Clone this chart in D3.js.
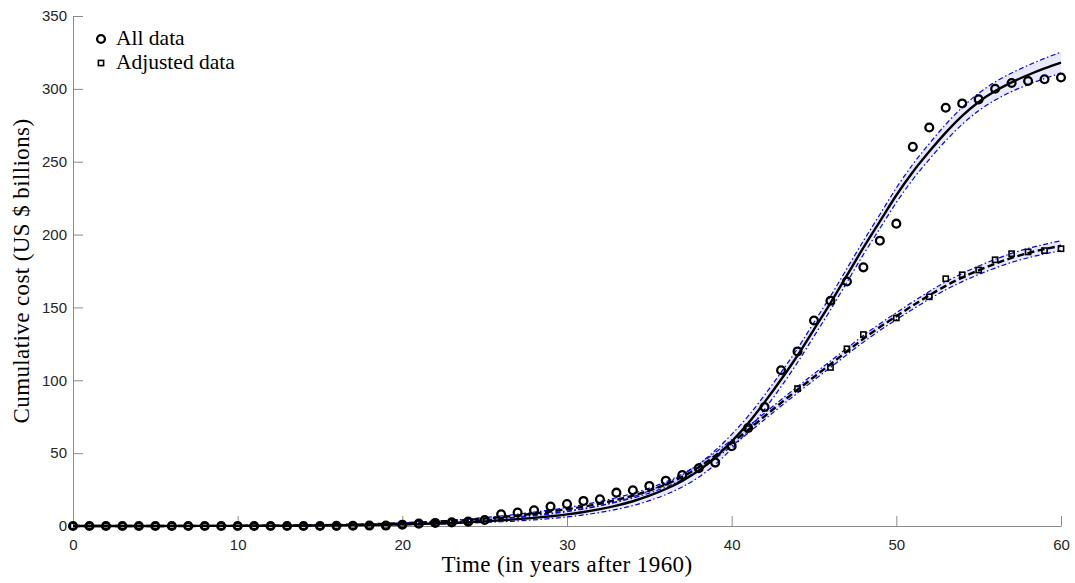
<!DOCTYPE html>
<html>
<head>
<meta charset="utf-8">
<script src="https://cdn.jsdelivr.net/npm/d3@7"></script>
<style>
    body { margin: 0; background: #fff; }
    svg { display: block; }
</style>
</head>
<body>
<div id="chart"></div>
<script>
const years = [0,1,2,3,4,5,6,7,8,9,10,11,12,13,14,15,16,17,18,19,20,21,22,23,24,25,26,27,28,29,30,
    31,32,33,34,35,36,37,38,39,40,41,42,43,44,45,46,47,48,49,50,51,52,53,54,55,56,57,58,59,60];

const allData = [0,0,0,0,0,0,0,0,0,0,0,0,0,0,0,0,0.1,0.2,0.3,0.3,0.9,1.6,2.1,2.5,3.0,4.1,8.0,9.2,10.8,13.3,
    15.1,17.2,18.3,22.9,24.5,27.5,31.1,35.0,39.6,43.5,54.7,67.3,81.7,106.9,119.8,141.0,154.6,167.8,177.5,195.8,
    207.5,260.2,273.5,287.0,290.0,292.8,300.1,304.0,305.4,306.6,307.8];

// null where no square can be seen in the picture
const adjustedData = [0,0,0,0,0,0,0,0,0,0,0,0,0,0,0,0,0.1,0.2,0.3,0.3,0.9,1.6,2.1,2.5,3.0,null,null,null,null,null,
    null,null,null,null,null,null,null,null,null,null,null,66.8,null,null,94.3,null,108.8,121.6,131.4,null,
    142.8,null,157.3,169.7,172.4,175.7,182.7,186.9,188.1,189.0,190.3];

// fitted curves and half width of their confidence bands
const fitAll = [0,0,0,0,0,0,0.1,0.1,0.1,0.1,0.1,0.2,0.2,0.2,0.3,0.4,0.5,0.6,0.7,0.9,1.1,1.4,1.7,2.1,2.6,3.2,3.9,
    4.7,5.6,6.7,8.0,9.6,11.6,14.0,17.0,20.8,25.4,31.0,38.0,47.0,58.0,70.5,85.0,100.5,117.0,135.0,153.0,172.0,
    191.0,209.0,227.0,243.0,257.0,270.0,281.5,291.0,298.5,304.5,309.5,314.0,318.0];
const fitAllBand = [0,0,0,0,0,0,0,0,0,0,0,0.1,0.1,0.1,0.1,0.1,0.1,0.2,0.2,0.2,0.3,0.4,0.5,0.6,0.7,0.8,1.0,1.2,
    1.4,1.6,1.8,2.0,2.3,2.6,3.0,3.4,3.8,4.2,4.5,4.8,4.9,4.9,4.9,4.9,4.8,4.8,4.7,4.7,4.7,4.8,5.0,5.2,5.4,5.6,
    5.8,6.0,6.2,6.4,6.6,6.9,7.2];

const fitAdjusted = [0,0,0,0,0,0,0,0,0.1,0.1,0.1,0.2,0.2,0.3,0.4,0.5,0.7,0.9,1.2,1.5,1.9,2.3,2.9,3.5,4.2,5.1,
    6.1,7.2,8.5,9.9,11.5,13.3,15.4,17.9,20.8,24.3,28.5,33.8,40.3,48.3,57.0,66.0,75.3,84.5,93.5,102.3,111.0,
    119.8,128.5,136.5,144.0,151.3,158.3,164.8,170.5,175.5,180.0,184.0,187.3,190.0,192.3];
const fitAdjustedBand = [0,0,0,0,0,0,0,0,0,0,0,0,0,0,0.1,0.1,0.1,0.1,0.2,0.2,0.3,0.3,0.4,0.5,0.6,0.7,0.8,0.9,
    1.0,1.1,1.2,1.3,1.4,1.5,1.6,1.7,1.8,1.9,2.0,2.1,2.2,2.2,2.2,2.2,2.2,2.2,2.2,2.2,2.3,2.3,2.4,2.5,2.6,2.7,
    2.8,2.9,3.0,3.1,3.2,3.3,3.4];

const xTicks = [0,10,20,30,40,50,60];
const yTicks = [0,50,100,150,200,250,300,350];
const legendLabels = ['All data', 'Adjusted data'];

const drawChart = () => {
    const width = 1075,
          height = 583,
          margin = {left: 73, right: 14, top: 16, bottom: 57},
          serif = '"Liberation Serif", "DejaVu Serif", serif';

    const svg = d3.select('#chart')
                    .append('svg')
                    .attr('width', width)
                    .attr('height', height);

    const xAxis = d3.scaleLinear()
            .domain([0, 60])
            .range([margin.left, width - margin.right]);

    const yAxis = d3.scaleLinear()
            .domain([0, 350])
            .range([height - margin.bottom, margin.top]);

    // axes, ticks point inwards
    const gx = svg.append('g')
        .attr('transform', 'translate(0,' + (height - margin.bottom) + ')')
        .call(d3.axisBottom(xAxis).tickValues(xTicks).tickSizeInner(-10).tickSizeOuter(0).tickPadding(13));

    const gy = svg.append('g')
        .attr('transform', 'translate(' + margin.left + ',0)')
        .call(d3.axisLeft(yAxis).tickValues(yTicks).tickSizeInner(-10).tickSizeOuter(0).tickPadding(6));

    [gx, gy].forEach(g => {
        g.select('.domain').attr('stroke', '#8c8c8c').attr('stroke-width', 1);
        g.selectAll('.tick line').attr('stroke', '#8c8c8c').attr('stroke-width', 1);
        g.selectAll('.tick text')
            .attr('fill', '#262626')
            .attr('font-family', '"Liberation Sans", Arial, sans-serif')
            .attr('font-size', '15px');
    });

    svg.append('text')
        .attr('x', (xAxis(0) + xAxis(60)) / 2)
        .attr('y', 572)
        .attr('text-anchor', 'middle')
        .attr('font-family', serif)
        .attr('font-size', '23px')
        .attr('letter-spacing', '0.4px')
        .attr('fill', '#000')
        .text('Time (in years after 1960)');

    svg.append('text')
        .attr('transform', 'translate(29,' + (yAxis(0) + yAxis(350)) / 2 + ') rotate(-90)')
        .attr('text-anchor', 'middle')
        .attr('font-family', serif)
        .attr('font-size', '23px')
        .attr('letter-spacing', '0.4px')
        .attr('fill', '#000')
        .text('Cumulative cost (US $ billions)');

    const fits = [
        {values: fitAll, band: fitAllBand, dash: null},
        {values: fitAdjusted, band: fitAdjustedBand, dash: '7,3.5'}
    ];

    const area = d3.area()
        .x((d, i) => xAxis(years[i]))
        .y0(d => yAxis(d[0]))
        .y1(d => yAxis(d[1]))
        .curve(d3.curveMonotoneX);

    const line = d3.line()
        .x((d, i) => xAxis(years[i]))
        .y(d => yAxis(d))
        .curve(d3.curveMonotoneX);

    fits.forEach(f => {
        const lo = f.values.map((v, i) => Math.max(0, v - f.band[i])),
              hi = f.values.map((v, i) => v + f.band[i]);

        svg.append('path')
            .datum(f.values.map((v, i) => [lo[i], hi[i]]))
            .attr('d', area)
            .attr('fill', 'rgba(0,0,255,0.09)');

        [lo, hi].forEach(b => {
            svg.append('path')
                .datum(b)
                .attr('d', line)
                .attr('fill', 'none')
                .attr('stroke', '#0000ff')
                .attr('stroke-width', 1.2)
                .attr('stroke-dasharray', '5,2.5,1.5,2.5');
        });
    });

    fits.forEach(f => {
        svg.append('path')
            .datum(f.values)
            .attr('d', line)
            .attr('fill', 'none')
            .attr('stroke', '#000')
            .attr('stroke-width', 2.4)
            .attr('stroke-dasharray', f.dash);
    });

    // markers
    const adjustedPoints = years.map((t, i) => ({t: t, v: adjustedData[i]}))
                                .filter(d => d.v !== null);

    svg.selectAll('.pt-adjusted')
        .data(adjustedPoints)
        .enter()
        .append('rect')
        .attr('class', 'pt-adjusted')
        .attr('x', d => xAxis(d.t) - 2.6)
        .attr('y', d => yAxis(d.v) - 2.6)
        .attr('width', 5.2)
        .attr('height', 5.2)
        .attr('fill', 'none')
        .attr('stroke', '#000')
        .attr('stroke-width', 1.6);

    svg.selectAll('.pt-all')
        .data(allData)
        .enter()
        .append('circle')
        .attr('class', 'pt-all')
        .attr('cx', (d, i) => xAxis(years[i]))
        .attr('cy', d => yAxis(d))
        .attr('r', 3.9)
        .attr('fill', 'none')
        .attr('stroke', '#000')
        .attr('stroke-width', 2.3);

    // legend
    const legend = svg.append('g').attr('transform', 'translate(101,39)');

    legend.append('circle')
        .attr('cx', 0).attr('cy', 0).attr('r', 3.9)
        .attr('fill', 'none').attr('stroke', '#000').attr('stroke-width', 2.3);

    legend.append('rect')
        .attr('x', -2.6).attr('y', 24 - 2.6).attr('width', 5.2).attr('height', 5.2)
        .attr('fill', 'none').attr('stroke', '#000').attr('stroke-width', 1.6);

    legend.selectAll('.legend-label')
        .data(legendLabels)
        .enter()
        .append('text')
        .attr('class', 'legend-label')
        .attr('x', 15)
        .attr('y', (d, i) => 6 + i * 24)
        .attr('font-family', serif)
        .attr('font-size', '21.5px')
        .attr('fill', '#000')
        .text(d => d);
};

drawChart();
</script>
</body>
</html>
